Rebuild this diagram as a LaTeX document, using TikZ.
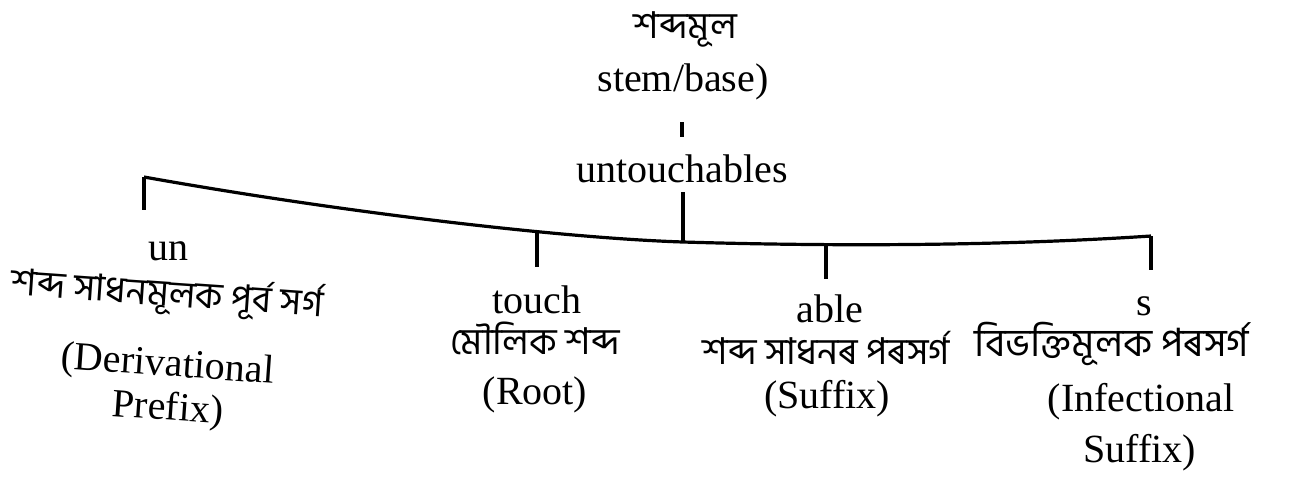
\documentclass[tikz,border=0pt]{standalone}
\usepackage{fontspec}
\setmainfont{Liberation Serif}
\newfontfamily\bnfont[Script=Bengali]{Hind Siliguri}
\tikzset{
  en/.style={inner sep=0pt, font=\fontsize{20}{24}\selectfont, anchor=base},
  bn/.style={inner sep=0pt, font=\bnfont\fontsize{18.5}{22}\selectfont, anchor=center},
  ln/.style={line width=1.6pt},
}
\begin{document}
\begin{tikzpicture}[x=0.5pt,y=-0.5pt]
\useasboundingbox (0,0) rectangle (1289,477);
% top
\node[bn] (sm) at (685,29) {শব্দমূল};
\node[en] (stem) at (683,91) {stem/base)};
\coordinate (s1) at (682,122);
\coordinate (s2) at (682,137);
\draw[ln] (s1) -- (s2);
\node[en] (unt) at (682,182) {untouchables};
% bracket
\coordinate (c0) at (683,192);
\coordinate (J) at (683,242);
\coordinate (L) at (144,177);
\coordinate (Lb) at (144,210);
\coordinate (R) at (1151,236);
\coordinate (Rb) at (1151,270);
\coordinate (T) at (537,233);
\coordinate (Tb) at (537,267);
\coordinate (A) at (826,246);
\coordinate (Ab) at (826,279);
\draw[ln] (c0) -- (J);
\draw[ln] (L) .. controls (340,212) and (560,238) .. (J)
               .. controls (833,246.5) and (1000,246) .. (R);
\draw[ln] (L) -- (Lb);
\draw[ln] (R) -- (Rb);
\draw[ln] (T) -- (Tb);
\draw[ln] (A) -- (Ab);
% left group
\node[en] (un) at (168,260) {un};
\node[bn,rotate=-4] (un1) at (167,294) {শব্দ সাধনমূলক পূর্ব সর্গ};
\node[en,rotate=-4] (un2) at (167,376) {(Derivational};
\node[en,rotate=-4] (un3) at (167,420) {Prefix)};
% touch
\node[en] (to) at (537,313) {touch};
\node[bn] (to1) at (535,338) {মৌলিক শব্দ};
\node[en] (to2) at (535,404) {(Root)};
% able
\node[en] (ab) at (830,322) {able};
\node[bn] (ab1) at (826,348) {শব্দ সাধনৰ পৰসর্গ};
\node[en] (ab2) at (827,408) {(Suffix)};
% s
\node[en] (sx) at (1144,315) {s};
\node[bn,font=\bnfont\fontsize{19.5}{22}\selectfont] (sx1) at (1112,344) {বিভক্তিমূলক পৰসর্গ};
\node[en] (sx2) at (1141,411) {(Infectional};
\node[en] (sx3) at (1140,462) {Suffix)};
\end{tikzpicture}
\end{document}
